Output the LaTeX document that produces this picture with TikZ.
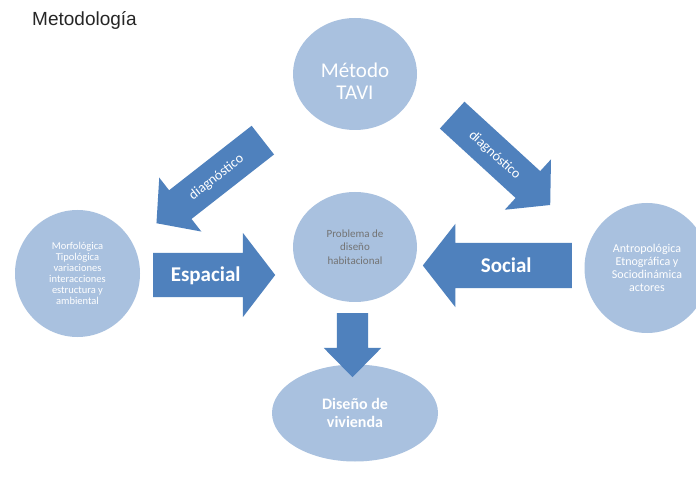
\documentclass[tikz,border=0pt]{standalone}
\usepackage{fontspec}
\setmainfont{Carlito}
\newfontfamily\titlefont{Liberation Sans}
\usetikzlibrary{shapes.geometric,shapes.arrows}
\definecolor{bubbleblue}{RGB}{169,193,223}
\definecolor{arrowblue}{RGB}{79,129,189}

\begin{document}
\begin{tikzpicture}[x=1pt,y=-1pt]
\tikzstyle{every node}+=[inner sep=0pt]
\tikzstyle{bubble}=[ellipse, fill=bubbleblue, text=white, align=center]
\tikzstyle{bigarrow}=[single arrow, fill=arrowblue, text=white, align=center]
\useasboundingbox (0,0) rectangle (696,478);
\fill [white] (0,0) rectangle (696,478);
\node [anchor=base west, text=black!85, font=\titlefont\fontsize{19}{22}\selectfont] (titulo) at (32,26) {Metodología};
\node [bubble, minimum width=124, minimum height=112] (metodo) at (355,74) {};
\node [text=white, align=center, font=\fontsize{21}{22}\selectfont] (metodotxt) at (355,81) {Método\\TAVI};
\node [bubble, minimum width=124, minimum height=110, text=black!55, font=\fontsize{11}{13.5}\selectfont] (problema) at (355,247) {Problema de\\diseño\\habitacional};
\node [bubble, minimum width=125, minimum height=127, font=\fontsize{10.5}{11}\selectfont] (espacio) at (77.5,273.5) {Morfológica\\Tipológica\\variaciones\\interacciones\\estructura y\\ambiental};
\node [bubble, minimum width=125, minimum height=130, font=\fontsize{12}{12.9}\selectfont] (sociedad) at (647,268) {Antropológica\\Etnográfica y\\Sociodinámica\\actores};
\node [bubble, minimum width=166, minimum height=97, font=\bfseries\fontsize{16}{17.5}\selectfont] (vivienda) at (355,413) {Diseño de\\vivienda};
\node [bigarrow, anchor=tail, minimum height=122, text width=90, text height=28.75, text depth=15.25, single arrow head extend=20, single arrow tip angle=105, font=\bfseries\fontsize{21}{22}\selectfont] (espacial) at (153,275) {Espacial};
\node [bigarrow, anchor=tail, shape border rotate=180, minimum height=149, text width=117, text height=29.25, text depth=15.75, single arrow head extend=19, single arrow tip angle=104, font=\bfseries\fontsize{21}{22}\selectfont] (social) at (572,265.5) {Social};
\node [bigarrow, anchor=tail, rotate=-90, minimum height=64, text width=35, text height=15.5, text depth=15.5, single arrow head extend=13, single arrow tip angle=89] (bajada) at (352.5,313) {};
\node [bigarrow, anchor=tail, rotate=38, shape border rotate=180, minimum height=135, text width=105, text height=22.5, text depth=13.5, single arrow head extend=16, single arrow tip angle=97, font=\fontsize{14}{15}\selectfont] (diagizq) at (263,140) {diagnóstico};
\node [bigarrow, anchor=tail, rotate=-42.5, minimum height=133, text width=100, text height=22.5, text depth=13.5, single arrow head extend=16, single arrow tip angle=97, font=\fontsize{14}{15}\selectfont] (diagder) at (452,115) {diagnóstico};
\end{tikzpicture}
\end{document}
